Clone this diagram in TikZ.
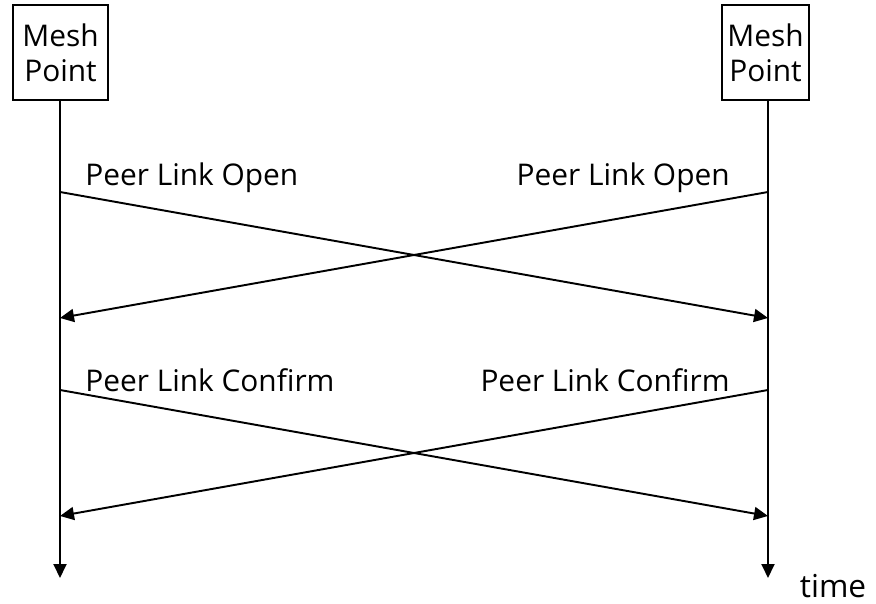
\documentclass[tikz,border=0pt]{standalone}
\usepackage{fontspec}
\setmainfont{Open Sans}
\usetikzlibrary{arrows.meta,positioning}
\tikzset{
  mpbox/.style={draw,line width=1.1pt,minimum height=1.9cm,inner sep=0pt,
    align=center,font=\fontsize{17}{20}\selectfont},
  lifeline/.style={line width=1.1pt,-{Triangle[length=0.28cm,width=0.26cm]}},
  msg/.style={line width=1.1pt,-{Triangle[length=0.28cm,width=0.26cm]}},
  msglabel/.style={font=\fontsize{17}{20}\selectfont,inner sep=0pt}
}

\begin{document}
\begin{tikzpicture}[x=0.02cm,y=-0.02cm]
  \useasboundingbox (0,0) rectangle (876,604);
  % mesh points
  \node[mpbox,minimum width=1.9cm] (mpA) at (60.5,52.5) {Mesh\\Point};
  \node[mpbox,minimum width=1.74cm] (mpB) at (765.5,52.5) {Mesh\\Point};
  \coordinate (endA) at (60,578);
  \coordinate (endB) at (768,578);
  \draw[lifeline] (mpA.south -| endA) -- (endA);
  \draw[lifeline] (mpB.south -| endB) -- (endB);
  \node[msglabel,font=\fontsize{18}{21}\selectfont,anchor=base] (time) at (833,597) {time};
  % open
  \coordinate (oA1) at (60,192);
  \coordinate (oB1) at (768,192);
  \coordinate (oA2) at (60,318);
  \coordinate (oB2) at (768,318);
  \draw[msg] (oA1) -- (oB2);
  \draw[msg] (oB1) -- (oA2);
  \node[msglabel,anchor=west] (openA) at (85,178) {Peer Link Open};
  \node[msglabel,anchor=east] (openB) at (730,178) {Peer Link Open};
  % confirm
  \coordinate (cA1) at (60,390);
  \coordinate (cB1) at (768,390);
  \coordinate (cA2) at (60,516);
  \coordinate (cB2) at (768,516);
  \draw[msg] (cA1) -- (cB2);
  \draw[msg] (cB1) -- (cA2);
  \node[msglabel,anchor=west] (confA) at (85,380) {Peer Link Confirm};
  \node[msglabel,anchor=east] (confB) at (730,380) {Peer Link Confirm};
\end{tikzpicture}
\end{document}
